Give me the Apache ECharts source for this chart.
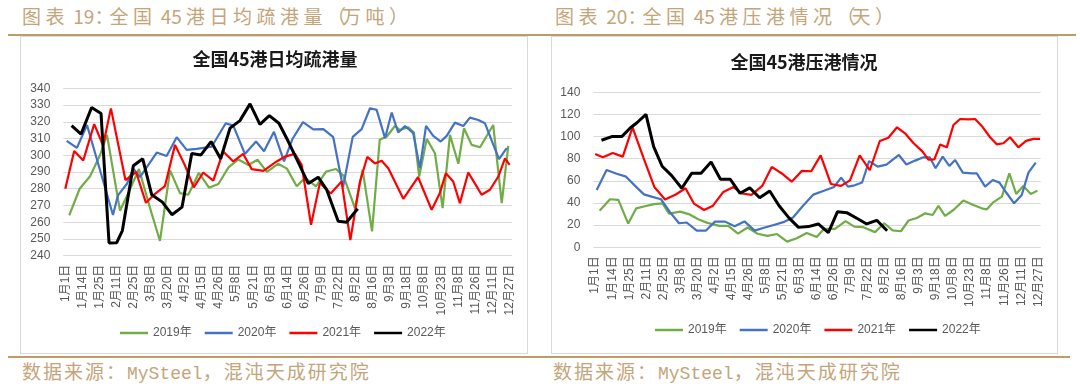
<!DOCTYPE html>
<html>
<head>
<meta charset="utf-8">
<script src="https://cdn.jsdelivr.net/npm/echarts@6/dist/echarts.min.js"></script>
<style>
html,body{margin:0;padding:0;background:#ffffff;}
#wrap{position:relative;width:1080px;height:386px;overflow:hidden;font-family:"Noto Sans CJK SC",sans-serif;}
.box{position:absolute;border:1px solid #d9d9d9;box-sizing:border-box;}
.gold{position:absolute;height:2px;background:#bd9d66;}
.hdr{position:absolute;font-size:19px;line-height:19px;letter-spacing:4.5px;color:#c4a57a;white-space:nowrap;}
.hdr .n{letter-spacing:0;}
.hdr .p{letter-spacing:-4px;}
.src{position:absolute;font-size:19px;line-height:19px;letter-spacing:2px;color:#c4a57a;white-space:nowrap;}
.src .m{font-family:"Liberation Mono",monospace;font-size:18px;letter-spacing:0;}
#chart{position:absolute;left:0;top:0;width:1080px;height:386px;}
</style>
</head>
<body>
<div id="wrap">
  <div class="box" style="left:20px;top:36px;width:508px;height:318px;"></div>
  <div class="box" style="left:551px;top:36px;width:507px;height:318px;"></div>
  <div class="gold" style="left:8px;top:34px;width:540px;"></div>
  <div class="gold" style="left:548px;top:34px;width:528px;"></div>
  <div class="gold" style="left:8px;top:356px;width:533px;"></div>
  <div class="gold" style="left:541px;top:356px;width:529px;"></div>
  <div class="hdr" style="left:22px;top:6px;">图表<span class="n"> 19</span><span class="p">：</span>全国<span class="n"> 45 </span>港日均疏港量<span class="p">（</span>万吨<span class="p">）</span></div>
  <div class="hdr" style="left:555px;top:6px;">图表<span class="n"> 20</span><span class="p">：</span>全国<span class="n"> 45 </span>港压港情况<span class="p">（</span>天<span class="p">）</span></div>
  <div class="src" style="left:22px;top:361px;">数据来源：<span class="m">MySteel</span>，混沌天成研究院</div>
  <div class="src" style="left:553px;top:361px;">数据来源：<span class="m">MySteel</span>，混沌天成研究院</div>
  <div id="chart"></div>
</div>
<script>
// ---- data ----
const dateLabels = ['1月1日','1月14日','1月25日','2月11日','2月25日','3月8日','3月20日','4月2日','4月15日','4月26日','5月8日','5月21日','6月3日','6月14日','6月26日','7月9日','7月22日','8月2日','8月16日','9月3日','9月18日','10月8日','10月23日','11月8日','11月26日','12月11日','12月27日'];
const years = ['2019年','2020年','2021年','2022年'];
const title1 = '全国45港日均疏港量';
const title2 = '全国45港压港情况';

// x = position along the date labels (0 = 1月1日 ... 26 = 12月27日), y = value
const dredge2019 = [[0.23,264.1],[0.84,280],[1.45,287.5],[2.03,300],[2.44,312.2],[3.20,266.9],[3.69,277.4],[4.31,291.8],[4.96,268.4],[5.54,248.8],[6.13,291],[6.71,277.4],[7.20,276.4],[7.82,289.5],[8.41,280.6],[8.96,282.8],[9.55,292.8],[10.13,297.5],[10.71,294.2],[11.25,297.3],[11.80,290.1],[12.45,294.9],[12.97,292],[13.54,281.5],[14.03,286.5],[14.67,281.4],[15.27,290.3],[15.84,291.8],[16.27,287.8],[16.95,268.4],[17.40,291.3],[17.95,254.5],[18.40,309.2],[18.81,311.2],[19.29,317.5],[19.58,315.1],[20.07,316.7],[20.40,313.6],[20.71,287.3],[21.15,309.8],[21.63,301.2],[22.08,268.4],[22.51,312.2],[23.00,294.9],[23.33,316.1],[23.78,306.2],[24.27,304.8],[25.04,318.1],[25.54,271.4],[25.92,305.6]];
const dredge2020 = [[0.08,308.6],[0.68,304.4],[1.27,318.1],[2.79,264.3],[3.08,276],[3.61,283],[3.98,292],[4.37,287],[5.35,301.6],[5.93,299.6],[6.52,310.8],[7.10,303.2],[7.69,303.8],[8.57,305.2],[9.39,319.1],[9.83,317.7],[10.51,300.8],[11.16,308.2],[11.63,302.4],[12.21,314],[12.80,296.3],[13.29,309.7],[13.91,319.8],[14.51,315.5],[15.10,315.6],[15.68,310.8],[16.25,280.9],[16.82,311],[17.34,315.6],[17.83,328.1],[18.22,327.1],[18.71,310.2],[19.10,325.5],[19.48,313.6],[19.88,317.5],[20.36,313.2],[20.75,292.3],[21.11,317.5],[21.53,311.6],[21.97,308.2],[22.32,311.6],[22.80,319.5],[23.29,317.5],[23.68,322.5],[24.17,321.1],[24.56,319.1],[25.01,307.2],[25.38,297.7],[25.83,304.2]];
const dredge2021 = [[0,280],[0.52,302.6],[1.05,296.9],[1.69,318.6],[2.21,306],[2.67,328],[3.52,285.2],[4.14,290],[4.72,271.6],[5.25,277],[5.83,281.5],[6.42,306.2],[7.00,294],[7.52,280.8],[8.07,289.7],[8.66,284.9],[9.24,302.2],[9.83,296.3],[10.41,300.8],[10.91,291.7],[11.59,290.7],[12.37,296.3],[12.85,299.2],[13.44,300.8],[13.83,294.3],[14.38,258.5],[14.90,283.5],[15.53,277.2],[16.17,284.3],[16.68,249.3],[17.24,284],[17.67,299],[18.12,295.1],[18.51,296.7],[18.90,292.3],[19.78,274],[20.64,287],[21.44,267.4],[21.92,277.4],[22.27,289.3],[22.70,284.3],[23.09,271.4],[23.58,289.7],[24.07,281.4],[24.36,276.4],[24.85,279.4],[25.34,287.3],[25.73,298.2],[26.0,294.3]];
const dredge2022 = [[0.37,317.7],[0.92,312.6],[1.54,328.5],[2.09,325],[2.56,247.6],[3.01,247.8],[3.34,255],[3.98,293.7],[4.53,297.9],[5.06,276.4],[5.68,272],[6.24,264.5],[6.83,269],[7.40,301],[7.94,300.2],[8.53,308.2],[9.09,297.9],[9.64,316.2],[10.22,320.7],[10.81,330.7],[11.39,318.5],[11.94,323.7],[12.50,319.1],[13.05,308.2],[13.62,296],[14.22,283.1],[14.80,286.9],[15.29,279.5],[15.97,260.6],[16.46,260],[17.11,268]];

const cong2019 = [[0.26,33.1],[0.87,43.4],[1.36,42.8],[1.94,21.4],[2.41,35.2],[2.97,37.3],[3.46,39],[3.95,39.7],[4.33,30.4],[4.98,32.2],[5.49,30],[6.05,25.3],[6.54,22.3],[7.28,19.3],[7.81,19.3],[8.38,12.3],[8.94,17.9],[9.53,12.2],[10.11,10.3],[10.67,12],[11.26,5.1],[11.83,8.1],[12.41,12.9],[13.00,9.3],[13.43,16.7],[14.07,16.7],[14.69,23.6],[15.20,18.7],[15.73,18.2],[16.42,13.7],[16.96,21.7],[17.45,15.3],[17.94,14.5],[18.38,24.2],[18.87,26.5],[19.37,30.7],[19.80,29.2],[20.14,37.4],[20.53,28.3],[21.02,33.7],[21.60,42.2],[22.19,38.2],[22.68,35.2],[22.98,34.3],[23.33,40.3],[23.86,45.7],[24.30,66.8],[24.70,48.2],[25.12,55.4],[25.56,48.2],[25.95,51.2]];
const cong2020 = [[0.09,51.8],[0.67,69.9],[1.26,66.5],[1.81,63.8],[2.39,54.8],[2.86,47.8],[3.36,45.5],[3.86,43.4],[4.44,30.7],[4.92,21.7],[5.37,22.4],[5.96,15.1],[6.50,15.1],[7.03,23.2],[7.62,23.2],[8.18,19],[8.76,23.4],[9.36,15.1],[9.90,17.6],[10.48,20.2],[11.04,22.7],[11.61,27],[12.17,37],[12.80,47.6],[13.42,51],[14.02,54.5],[14.43,63],[14.83,54.8],[15.23,56],[15.66,58.5],[16.07,77.8],[16.57,72.9],[17.09,74.7],[17.82,83.4],[18.26,74.8],[18.77,78.3],[19.26,81.3],[19.63,81.3],[19.97,71.4],[20.39,81.9],[20.78,73.5],[21.12,78.9],[21.57,67.5],[22.10,66.8],[22.39,66.8],[22.88,54.8],[23.33,60.8],[23.72,58.4],[24.15,48.8],[24.58,39.7],[25.03,47.3],[25.42,67.5],[25.85,76.5]];
const cong2021 = [[0,84.3],[0.45,81.3],[1.03,85.2],[1.62,81.9],[2.19,108.3],[2.83,81],[3.47,54.5],[4.10,43.1],[4.73,47.7],[5.30,53.3],[5.80,39.4],[6.39,33.7],[6.91,37.6],[7.52,50],[8.11,54.4],[8.62,48.6],[9.17,47.3],[9.80,55.4],[10.36,72.6],[10.95,66.7],[11.53,59.3],[12.12,69],[12.68,68.7],[13.23,83],[13.83,57.2],[14.42,55.5],[14.95,60.5],[15.52,83],[16.11,69.6],[16.70,96],[17.20,99],[17.71,108.4],[18.18,103],[18.67,94.2],[19.21,86.4],[19.55,79.2],[19.90,79.5],[20.24,92.8],[20.63,90.3],[21.02,110.5],[21.41,115.9],[21.90,115.6],[22.29,115.9],[22.68,109.6],[23.17,99.4],[23.56,93],[23.95,94],[24.34,99.4],[24.83,90.3],[25.28,96.1],[25.71,97.9],[26.1,97.9]];
const cong2022 = [[0.37,96.7],[0.97,100],[1.56,100],[2.07,108],[2.45,112.5],[2.98,120],[3.43,90.9],[3.93,73.2],[4.49,64.8],[5.08,53.3],[5.66,66.8],[6.21,66.8],[6.80,77],[7.35,61.4],[7.93,61.4],[8.50,48.8],[9.07,53.7],[9.65,44.8],[10.24,50.8],[10.79,37.5],[11.37,26.6],[11.93,18],[12.51,18.7],[13.09,21.1],[13.68,13.2],[14.22,32.2],[14.76,31.3],[15.35,26.2],[15.93,21.1],[16.52,24.4],[17.13,15]];

// ---- chart ----
const colors = ['#70AD47','#4472C4','#FF0000','#000000'];
const widths = [2.2,2.2,2.2,3];
const labelFont = '"Liberation Sans","Noto Sans CJK SC",sans-serif';
const tickPositions = dateLabels.map((_, i) => i);

function xAxisFor(grid, min, max) {
  return {
    type: 'value', gridIndex: grid, min: min, max: max,
    axisLine: {show: false}, axisTick: {show: false}, splitLine: {show: false},
    axisLabel: {
      customValues: tickPositions, rotate: 90, margin: 9,
      color: '#595959', fontSize: 12, fontFamily: labelFont,
      formatter: v => dateLabels[Math.round(v)]
    }
  };
}
function yAxisFor(grid, min, max, interval) {
  return {
    type: 'value', gridIndex: grid, min: min, max: max, interval: interval,
    axisLine: {show: false}, axisTick: {show: false},
    splitLine: {lineStyle: {color: '#D9D9D9', width: 1}},
    axisLabel: {color: '#595959', fontSize: 12, fontFamily: labelFont, margin: 13}
  };
}
function lineSeries(name, data, idx, axis) {
  return {
    name: name, type: 'line', data: data, xAxisIndex: axis, yAxisIndex: axis,
    showSymbol: false, symbol: 'none',
    lineStyle: {color: colors[idx], width: widths[idx]},
    itemStyle: {color: colors[idx]}, z: 2 + idx
  };
}
const legendBase = {
  data: years, icon: 'rect', itemWidth: 28, itemHeight: 2.5, itemGap: 13,
  textStyle: {color: '#595959', fontSize: 12, fontFamily: labelFont}
};

const chart = echarts.init(document.getElementById('chart'), null, {renderer: 'canvas'});
chart.setOption({
  animation: false,
  grid: [
    {left: 63.3, top: 88.3, width: 448.7, height: 167.4},
    {left: 593.3, top: 92.3, width: 447.4, height: 155}
  ],
  xAxis: [xAxisFor(0, -0.117, 26.14), xAxisFor(1, -0.11, 26.14)],
  yAxis: [yAxisFor(0, 240, 340, 10), yAxisFor(1, 0, 140, 20)],
  legend: [
    Object.assign({}, legendBase, {left: 115, top: 322}),
    Object.assign({}, legendBase, {left: 650, top: 319})
  ],
  graphic: [
    {type: 'text', x: 275, y: 59, style: {text: title1, fill: '#1a1a1a', font: 'bold 18px "Noto Sans CJK SC"', textAlign: 'center', textVerticalAlign: 'middle', align: 'center', verticalAlign: 'middle'}},
    {type: 'text', x: 804, y: 62, style: {text: title2, fill: '#1a1a1a', font: 'bold 18px "Noto Sans CJK SC"', textAlign: 'center', textVerticalAlign: 'middle', align: 'center', verticalAlign: 'middle'}}
  ],
  series: [
    lineSeries(years[0], dredge2019, 0, 0),
    lineSeries(years[1], dredge2020, 1, 0),
    lineSeries(years[2], dredge2021, 2, 0),
    lineSeries(years[3], dredge2022, 3, 0),
    lineSeries(years[0], cong2019, 0, 1),
    lineSeries(years[1], cong2020, 1, 1),
    lineSeries(years[2], cong2021, 2, 1),
    lineSeries(years[3], cong2022, 3, 1)
  ]
});
</script>
</body>
</html>
